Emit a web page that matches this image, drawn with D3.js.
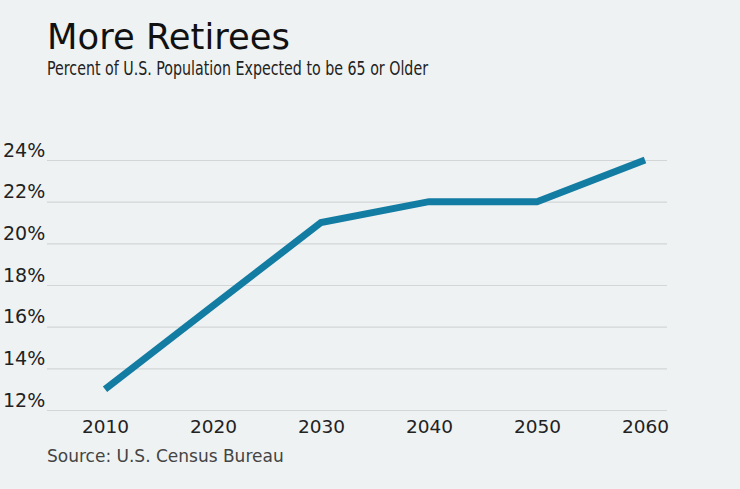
<!DOCTYPE html>
<html>
<head>
<meta charset="utf-8">
<script src="https://cdn.jsdelivr.net/npm/d3@7"></script>
<style>
  html, body { margin: 0; padding: 0; background: #eff2f2; }
  svg { display: block; font-family: "DejaVu Sans", Verdana, sans-serif; }
</style>
</head>
<body>
<div id="chart"></div>
<script>
const years = [2010, 2020, 2030, 2040, 2050, 2060];
const percents = [13, 17, 21, 22, 22, 24];
const yTicks = [12, 14, 16, 18, 20, 22, 24];

const width = 740;
const height = 489;
const margin = { top: 160, right: 73, bottom: 79, left: 47 };
const font = '"DejaVu Sans", Verdana, sans-serif';

const svg = d3
  .select("#chart")
  .append("svg")
  .attr("width", width)
  .attr("height", height);

svg.append("rect").attr("width", width).attr("height", height).attr("fill", "#eff2f2");

const x = d3.scaleLinear().domain([2010, 2060]).range([105, 645]);
const y = d3
  .scaleLinear()
  .domain([12, 24])
  .range([height - margin.bottom, margin.top]);

// title + subtitle
svg
  .append("text")
  .attr("x", 47)
  .attr("y", 49)
  .attr("fill", "#111")
  .style("font-size", "35px")
  .attr("textLength", 243)
  .attr("lengthAdjust", "spacingAndGlyphs")
  .text("More Retirees");

svg
  .append("text")
  .attr("x", 47)
  .attr("y", 75)
  .attr("fill", "#222")
  .style("font-size", "19.5px")
  .attr("textLength", 381)
  .attr("lengthAdjust", "spacingAndGlyphs")
  .text("Percent of U.S. Population Expected to be 65 or Older");

// y grid + labels
const yAxis = (g) =>
  g
    .attr("transform", `translate(${margin.left},0)`)
    .call(
      d3
        .axisLeft(y)
        .tickValues(yTicks)
        .tickSize(-(width - margin.left - margin.right))
        .tickFormat((d) => d + "%")
    )
    .attr("font-family", font)
    .call((g) => g.select(".domain").remove())
    .call((g) => g.selectAll(".tick line").attr("stroke", "#d3d6d6").attr("stroke-width", 1.2))
    .call((g) =>
      g
        .selectAll(".tick text")
        .attr("x", -44)
        .attr("dy", "-4px")
        .attr("text-anchor", "start")
        .attr("fill", "#222")
        .style("font-size", "19px")
    );
svg.append("g").call(yAxis);

// x labels
const xAxis = (g) =>
  g
    .attr("transform", `translate(0,${height - margin.bottom})`)
    .call(d3.axisBottom(x).tickValues(years).tickFormat(d3.format("d")).tickSize(0))
    .attr("font-family", font)
    .call((g) => g.select(".domain").remove())
    .call((g) =>
      g
        .selectAll(".tick text")
        .attr("y", 23)
        .attr("dy", 0)
        .attr("fill", "#222")
        .style("font-size", "18.5px")
    );
svg.append("g").call(xAxis);

// line
const data = years.map((yr, i) => ({ yr, v: percents[i] }));
svg
  .append("path")
  .datum(data)
  .attr("fill", "none")
  .attr("stroke", "#137ca3")
  .attr("stroke-width", 7)
  .attr("stroke-linejoin", "miter")
  .attr("stroke-linecap", "butt")
  .attr(
    "d",
    d3
      .line()
      .x((d) => x(d.yr))
      .y((d) => y(d.v))
  );

// source
svg
  .append("text")
  .attr("x", 47)
  .attr("y", 462)
  .attr("fill", "#444")
  .style("font-size", "17px")
  .text("Source: U.S. Census Bureau");
</script>
</body>
</html>
